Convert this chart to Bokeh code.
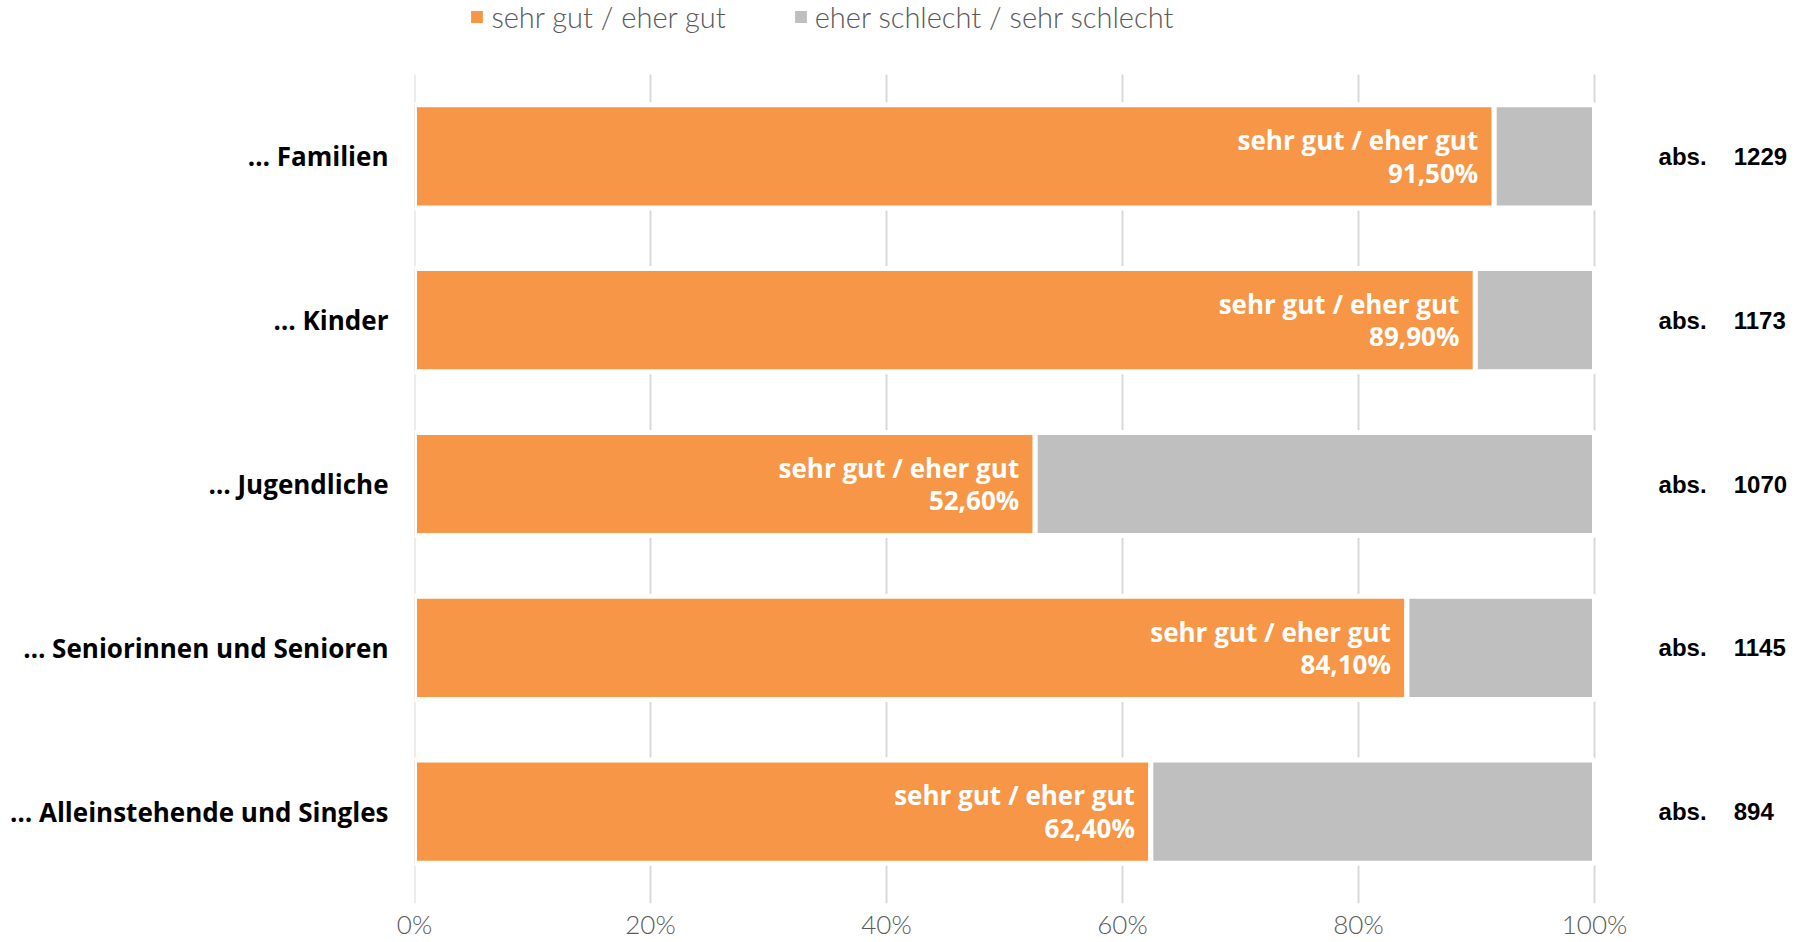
from bokeh.plotting import figure
from bokeh.models import (ColumnDataSource, Range1d, FixedTicker,
                          PrintfTickFormatter, Legend, LegendItem)
from bokeh.core.properties import value
from bokeh.embed import file_html
from bokeh.resources import INLINE

# ---------------- data ----------------
categories = ["… Familien", "… Kinder", "… Jugendliche",
              "… Seniorinnen und Senioren", "… Alleinstehende und Singles"]
good = [91.5, 89.9, 52.6, 84.1, 62.4]
bad = [8.5, 10.1, 47.4, 15.9, 37.6]
counts = [1229, 1173, 1070, 1145, 894]
series_names = ["sehr gut / eher gut", "eher schlecht / sehr schlecht"]
x_ticks = [0, 20, 40, 60, 80, 100]

# ---------------- styles ----------------
ORANGE = "#F79646"
GREY = "#BFBFBF"
GRID = "#D9D9D9"
TXT = "#595959"
W, H = 1808, 942
LEFT = 414
BAND_TOP = 74            # top of the category band (px)
BAND_BOTTOM = 893        # bottom of the category band (px)
FRAME_BOTTOM = 903       # grid lines run 10 px below the band
BOTTOM = H - FRAME_BOTTOM
PX_100 = 1180.0                       # pixels for 0..100 %
X_END = 100.0 * (W - LEFT) / PX_100   # extra room right for the "abs." column
n_cat = len(categories)
band_px = (BAND_BOTTOM - BAND_TOP) / n_cat
y_lo = -(n_cat - 1) - 0.5 - (FRAME_BOTTOM - BAND_BOTTOM) / band_px
y_hi = y_lo + FRAME_BOTTOM / band_px  # frame reaches the top of the canvas

pos = [-i for i in range(n_cat)]      # category slots, first one on top

src = ColumnDataSource(dict(
    y=pos,
    good=good,
    end=[g + b for g, b in zip(good, bad)],
    label=[f"{series_names[0]}\n{g:.2f}".replace(".", ",") + "%" for g in good],
    abs_lbl=["abs."] * n_cat,
    n=[str(c) for c in counts],
))

p = figure(width=W, height=H,
           y_range=Range1d(y_lo, y_hi), x_range=Range1d(0, X_END),
           output_backend="svg", toolbar_location=None,
           min_border_left=LEFT, min_border_right=0,
           min_border_top=0, min_border_bottom=BOTTOM)
p.outline_line_color = None
p.background_fill_color = "white"
p.xgrid.visible = False
p.ygrid.visible = False

# vertical grid lines
p.segment(x0=x_ticks, x1=x_ticks, y0=y_lo, y1=pos[0] + 0.5,
          line_color=GRID, line_width=2)

# bars
r_good = p.hbar(y="y", left=0, right="good", height=0.63, source=src,
                fill_color=ORANGE, line_color="white", line_width=5)
r_bad = p.hbar(y="y", left="good", right="end", height=0.63, source=src,
               fill_color=GREY, line_color="white", line_width=5)

# in-bar labels
p.text(x="good", y="y", text="label", source=src, x_offset=-16,
       text_align="right", text_baseline="middle", text_color="white",
       text_font=value("Open Sans"), text_font_style="bold",
       text_font_size="26px", text_line_height=0.9)

# right-hand counts
p.text(x=109.5, y="y", text="abs_lbl", source=src,
       text_align="right", text_baseline="middle", text_color="black",
       text_font=value("Liberation Sans"), text_font_style="bold",
       text_font_size="24px")
p.text(x=111.8, y="y", text="n", source=src,
       text_align="left", text_baseline="middle", text_color="black",
       text_font=value("Liberation Sans"), text_font_style="bold",
       text_font_size="24px")

# x axis
xa = p.xaxis[0]
xa.ticker = FixedTicker(ticks=x_ticks)
xa.formatter = PrintfTickFormatter(format="%d%%")
xa.axis_line_color = None
xa.major_tick_in = 0
xa.major_tick_out = 0
xa.major_tick_line_color = None
xa.minor_tick_line_color = None
xa.major_label_standoff = 4
xa.major_label_text_font = "'Lato Light', Lato"
xa.major_label_text_font_size = "26px"
xa.major_label_text_color = TXT

# y axis with category names
ya = p.yaxis[0]
ya.ticker = FixedTicker(ticks=pos)
ya.major_label_overrides = {k: c for k, c in zip(pos, categories)}
ya.axis_line_color = None
ya.major_tick_line_color = None
ya.minor_tick_line_color = None
ya.major_tick_in = 0
ya.major_tick_out = 0
ya.major_label_standoff = 26
ya.major_label_text_font = "Open Sans"
ya.major_label_text_font_style = "bold"
ya.major_label_text_font_size = "26px"
ya.major_label_text_color = "black"

# legend
legend = Legend(items=[LegendItem(label=series_names[0], renderers=[r_good]),
                       LegendItem(label=series_names[1], renderers=[r_bad])],
                orientation="horizontal",
                location=(52.4, FRAME_BOTTOM - 19 - 23 + 8),
                glyph_width=21, glyph_height=21, label_standoff=4,
                spacing=64, padding=0, margin=0,
                border_line_color=None, background_fill_alpha=0,
                label_text_font="'Lato Light', Lato",
                label_text_font_size="29px", label_text_color=TXT)
p.add_layout(legend)

open("out.html", "w").write(file_html(p, INLINE))
